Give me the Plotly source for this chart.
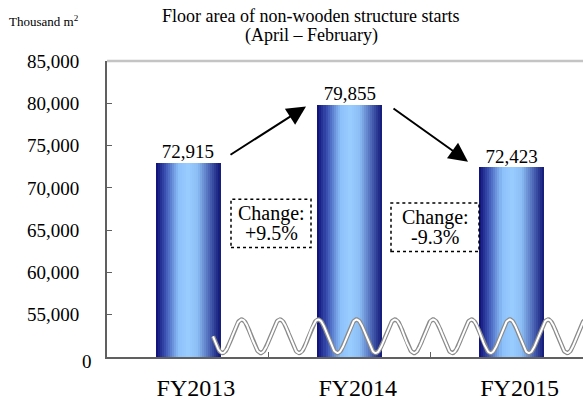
import numpy as np
import plotly.graph_objects as go

# ---- data ----
categories = ["FY2013", "FY2014", "FY2015"]
values = [72915, 79855, 72423]
y_tickvals = [55000, 60000, 65000, 70000, 75000, 80000, 85000]
y_ticktext = ["55,000", "60,000", "65,000", "70,000", "75,000", "80,000", "85,000"]
axis_break_value = 50000
axis_break_label = "0"

FONT = "Liberation Serif"
W, H = 583, 401
L, R, T, B = 107, 0, 61, 40
X0, X1 = -0.5, 2.441
Y0, Y1 = axis_break_value, 85000

def px_to_x(px):
    return X0 + (px - L) / (W - L - R) * (X1 - X0)

def py_to_y(py):
    return Y0 + (H - B - py) / (H - T - B) * (Y1 - Y0)

def pxp(px):
    return (px - L) / (W - L - R)

def pyp(py):
    return (H - B - py) / (H - T - B)

fig = go.Figure()

# gradient bars built from stripes
stops = [(0.0, (12, 12, 118)), (0.15, (60, 85, 180)), (0.35, (140, 192, 250)),
         (0.5, (153, 204, 255)), (0.65, (140, 190, 245)), (0.85, (70, 95, 175)),
         (1.0, (16, 22, 120))]

def grad(t):
    for (t0, c0), (t1, c1) in zip(stops[:-1], stops[1:]):
        if t0 <= t <= t1:
            f = (t - t0) / (t1 - t0)
            return "rgb(%d,%d,%d)" % tuple(round(a + (b - a) * f) for a, b in zip(c0, c1))
    return "rgb(%d,%d,%d)" % stops[-1][1]

N = 32
BW = 0.4
sw = BW / N
for i in range(N):
    t = (i + 0.5) / N
    fig.add_trace(go.Bar(
        x=categories, y=values, width=sw * 1.15, offset=-BW / 2 + i * sw,
        marker=dict(color=grad(t), line=dict(width=0)),
        showlegend=False, hoverinfo="skip"))

# value labels
fig.add_trace(go.Scatter(
    x=categories, y=values, mode="text",
    text=[f"{v:,}" for v in values], textposition="top center",
    textfont=dict(family=FONT, size=19, color="black"),
    showlegend=False, hoverinfo="skip", cliponaxis=False))

# axis-break wave (decoration)
xs = np.linspace(px_to_x(213), 2.5, 600)
P = 38.3 / (W - L - R) * (X1 - X0)
xpk = px_to_x(241.7)
c = py_to_y(340)
A = py_to_y(340 - 17) - c
ys = c + A * np.cos(2 * np.pi * (xs - xpk) / P)
fig.add_trace(go.Scatter(x=xs, y=ys, mode="lines", line=dict(color="#8a8a8a", width=4.4),
                         xaxis="x2", showlegend=False, hoverinfo="skip"))
fig.add_trace(go.Scatter(x=xs, y=ys, mode="lines", line=dict(color="white", width=2),
                         xaxis="x2", showlegend=False, hoverinfo="skip"))

# change boxes
changes = [(values[i + 1] / values[i] - 1) * 100 for i in range(len(values) - 1)]
boxes = [(231, 311, 201, 250), (391, 479, 205, 254)]
shapes = []
annotations = []
for ch, (bx0, bx1, by0, by1) in zip(changes, boxes):
    shapes.append(dict(type="rect", xref="paper", yref="paper",
                       x0=pxp(bx0), x1=pxp(bx1), y0=pyp(by1), y1=pyp(by0),
                       line=dict(color="black", width=1.5, dash="dot"), fillcolor="white",
                       layer="above"))
    cx = (bx0 + bx1) / 2
    cy = (by0 + by1) / 2
    for txt, dy in (("Change:", -9.5), (f"{ch:+.1f}%", 9.5)):
        annotations.append(dict(xref="paper", yref="paper", x=pxp(cx), y=pyp(cy + dy),
                                text=txt, showarrow=False, xanchor="center", yanchor="middle",
                                font=dict(family=FONT, size=20, color="black")))

# arrows
arrows = [((229, 157), (306, 107)), ((392, 108), (468, 163))]
for (tx, ty), (hx, hy) in arrows:
    annotations.append(dict(xref="x2", yref="y", axref="x2", ayref="y",
                            x=px_to_x(hx), y=py_to_y(hy), ax=px_to_x(tx), ay=py_to_y(ty),
                            text="", showarrow=True, arrowhead=2, arrowsize=1.9,
                            arrowwidth=2, arrowcolor="black"))

# top border
shapes.append(dict(type="line", xref="paper", yref="paper", x0=0, x1=1, y0=1, y1=1,
                   line=dict(color="#c4c4c4", width=2.5)))

# titles
annotations += [
    dict(xref="paper", yref="paper", x=pxp(310), y=pyp(15),
         text="Floor area of non-wooden structure starts", showarrow=False,
         font=dict(family=FONT, size=18, color="black"), xanchor="center", yanchor="middle"),
    dict(xref="paper", yref="paper", x=pxp(311), y=pyp(35),
         text="(April \u2013 February)", showarrow=False,
         font=dict(family=FONT, size=18, color="black"), xanchor="center", yanchor="middle"),
    dict(xref="paper", yref="paper", x=pxp(7), y=pyp(20),
         text="Thousand m<sup>2</sup>", showarrow=False, xanchor="left", yanchor="middle",
         font=dict(family=FONT, size=13, color="black")),
    dict(xref="paper", yref="y", x=pxp(94), y=axis_break_value, text=axis_break_label,
         showarrow=False, xanchor="right", yanchor="middle", yshift=-4,
         font=dict(family=FONT, size=19, color="black")),
]

fig.update_layout(
    width=W, height=H, margin=dict(l=L, r=R, t=T, b=B),
    paper_bgcolor="white", plot_bgcolor="white",
    barmode="overlay", bargap=0,
    font=dict(family=FONT, color="black"),
    xaxis=dict(type="category", range=[X0, X1], showgrid=False, showline=True,
               linecolor="#606060", linewidth=2, ticks="inside", ticklen=5,
               tickcolor="#606060", tickson="boundaries",
               tickfont=dict(family=FONT, size=24, color="black"),
               ticklabelshift=8, ticklabelstandoff=8),
    xaxis2=dict(range=[X0, X1], overlaying="x", visible=False),
    yaxis=dict(range=[Y0, Y1], tickvals=y_tickvals, ticktext=y_ticktext,
               showgrid=False, showline=True, linecolor="#606060", linewidth=2,
               ticks="inside", ticklen=5, tickcolor="#606060",
               tickfont=dict(family=FONT, size=19, color="black"),
               ticklabelstandoff=22, zeroline=False),
    shapes=shapes, annotations=annotations,
)

fig.write_html("out.html")
